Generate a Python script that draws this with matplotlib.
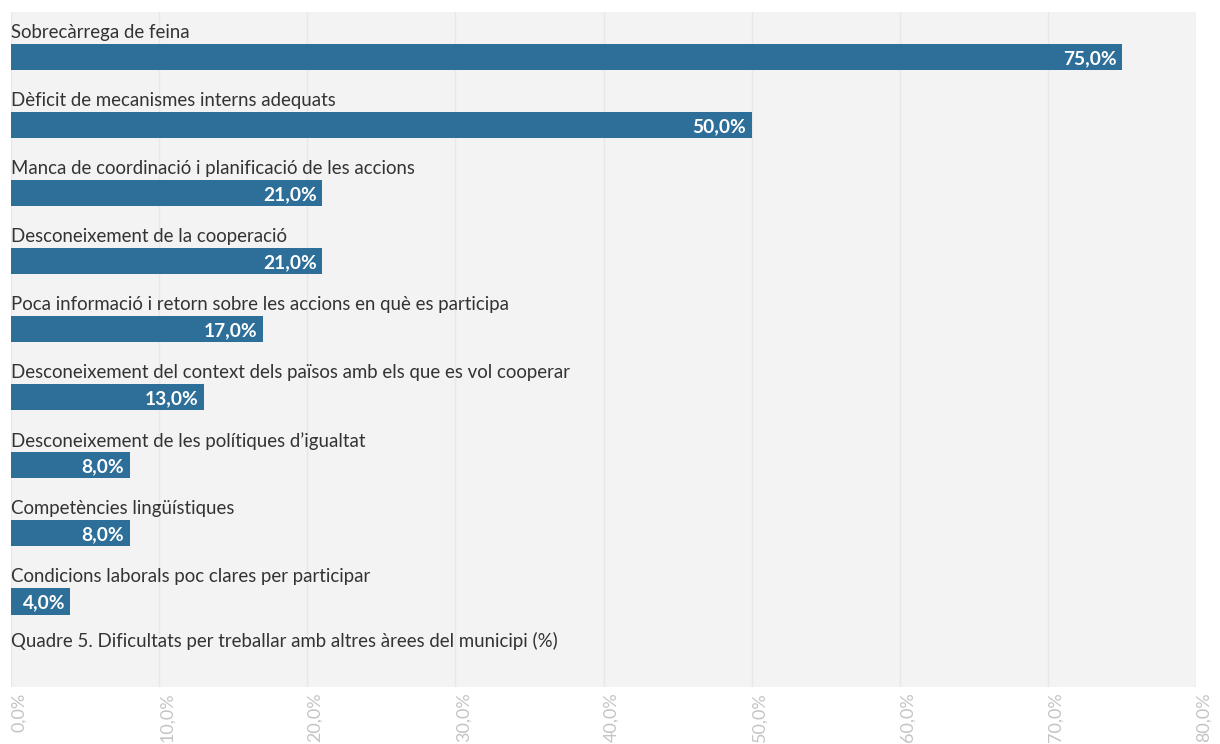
import matplotlib.pyplot as plt
import numpy as np

# dades llegides del gràfic
categories = [
    "Sobrecàrrega de feina",
    "Dèficit de mecanismes interns adequats",
    "Manca de coordinació i planificació de les accions",
    "Desconeixement de la cooperació",
    "Poca informació i retorn sobre les accions en què es participa",
    "Desconeixement del context dels països amb els que es vol cooperar",
    "Desconeixement de les polítiques d’igualtat",
    "Competències lingüístiques",
    "Condicions laborals poc clares per participar",
]
values = [75.0, 50.0, 21.0, 21.0, 17.0, 13.0, 8.0, 8.0, 4.0]
x_ticks = [0, 10, 20, 30, 40, 50, 60, 70, 80]
title = "Quadre 5. Dificultats per treballar amb altres àrees del municipi (%)"

bar_color = "#2d6f98"
bg_color = "#f3f3f3"
grid_color = "#e8e8e8"
text_color = "#333333"

plt.rcParams['font.family'] = ['Lato', 'DejaVu Sans']

fig = plt.figure(figsize=(12.2, 7.44), dpi=100)
W, H = 1220, 744
ax = fig.add_axes([11 / W, 1 - 687 / H, (1196 - 11) / W, (687 - 12) / H])
ax.set_facecolor(bg_color)

y = np.arange(len(categories))
ax.barh(y, values, height=0.39, color=bar_color, zorder=2)

for yi, cat, v in zip(y, categories, values):
    ax.text(0, yi - 0.36, cat, ha='left', va='center', fontsize=13.4,
            color=text_color, zorder=3)
    ax.text(v - 0.35, yi + 0.02, f"{v:.1f}%".replace('.', ','), ha='right',
            va='center', fontsize=13.8, fontweight='bold', color='white', zorder=3)

ax.text(0, 8.59, title, ha='left', va='center', fontsize=13.4, color=text_color)

ax.set_xlim(0, 80)
ax.set_ylim(8 + 1.26, -0.66)
ax.set_xticks(x_ticks)
ax.set_xticklabels([f"{t:.1f}%".replace('.', ',') for t in x_ticks],
                   rotation=90, ha='left', va='top', fontsize=13, color='#c4c4c4')
ax.tick_params(axis='x', length=0, pad=4)
ax.set_yticks([])
ax.grid(axis='x', color=grid_color, linewidth=1, zorder=1)
for s in ax.spines.values():
    s.set_visible(False)

fig.savefig("out.png", dpi=100, facecolor='white')
